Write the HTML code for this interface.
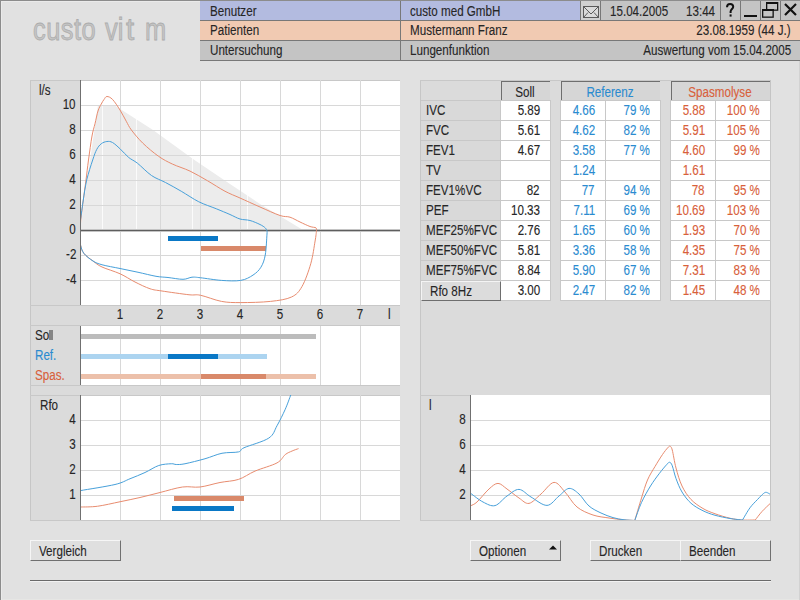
<!DOCTYPE html>
<html><head><meta charset="utf-8">
<style>
*{margin:0;padding:0;box-sizing:border-box}
html,body{width:800px;height:600px;overflow:hidden}
body{background:#e1e1e1;font-family:"Liberation Sans",sans-serif;font-size:14px;color:#262626;position:relative}
.a{position:absolute;white-space:nowrap}
.t,.tr,.tc{position:absolute;white-space:nowrap;line-height:15px;transform:scaleX(0.83);-webkit-text-stroke:0.12px currentColor}
.t{transform-origin:0 0}
.tr{transform-origin:100% 0;text-align:right}
.tc{transform-origin:50% 0;text-align:center}
.btn{position:absolute;height:21px;background:#dfdfdf;border-top:1px solid #f6f6f6;border-left:1px solid #f6f6f6;border-right:1px solid #707070;border-bottom:1px solid #707070}
</style></head><body>

<div style="position:absolute;white-space:nowrap;font-size:31px;line-height:36px;color:#c5c5c5;-webkit-text-stroke:0.8px #acacac;transform:scaleX(0.82);transform-origin:0 0;top:12px;left:33px;letter-spacing:0.6px">custo</div>
<div style="position:absolute;white-space:nowrap;font-size:31px;line-height:36px;color:#c5c5c5;-webkit-text-stroke:0.8px #acacac;transform:scaleX(0.82);transform-origin:0 0;top:12px;left:105px">vi</div>
<div style="position:absolute;white-space:nowrap;font-size:31px;line-height:36px;color:#c5c5c5;-webkit-text-stroke:0.8px #acacac;transform:scaleX(0.82);transform-origin:0 0;top:12px;left:126px;transform:scaleX(0.95)">t</div>
<div style="position:absolute;white-space:nowrap;font-size:31px;line-height:36px;color:#c5c5c5;-webkit-text-stroke:0.8px #acacac;transform:scaleX(0.82);transform-origin:0 0;top:12px;left:145px">m</div>
<div class="a" style="left:200px;top:0;width:600px;height:61px;background:#787878"></div>
<div class="a" style="left:200px;top:1px;width:380px;height:19px;background:#b3bbe0"></div>
<div class="a" style="left:581px;top:1px;width:219px;height:19px;background:#c4c4c4"></div>
<div class="a" style="left:200px;top:21px;width:600px;height:19px;background:#f1cab2"></div>
<div class="a" style="left:200px;top:41px;width:600px;height:19px;background:#c4c4c4"></div>
<div class="a" style="left:600px;top:0;width:1px;height:20px;background:#787878"></div>
<div class="a" style="left:720px;top:0;width:1px;height:20px;background:#787878"></div>
<div class="a" style="left:740px;top:0;width:1px;height:20px;background:#787878"></div>
<div class="a" style="left:760px;top:0;width:1px;height:20px;background:#787878"></div>
<div class="a" style="left:780px;top:0;width:1px;height:20px;background:#787878"></div>
<div class="a" style="left:400px;top:0;width:1px;height:60px;background:#787878"></div>
<div class="t" style="left:210px;top:4px;">Benutzer</div>
<div class="t" style="left:410px;top:4px;">custo med GmbH</div>
<div class="t" style="left:610px;top:4px;">15.04.2005</div>
<div class="t" style="left:686px;top:4px;">13:44</div>
<div class="t" style="left:210px;top:23px;">Patienten</div>
<div class="t" style="left:410px;top:23px;">Mustermann Franz</div>
<div class="tr" style="right:9px;top:23px;">23.08.1959 (44 J.)</div>
<div class="t" style="left:210px;top:43px;">Untersuchung</div>
<div class="t" style="left:410px;top:43px;">Lungenfunktion</div>
<div class="tr" style="right:9px;top:43px;">Auswertung vom 15.04.2005</div>
<svg class="a" style="left:580px;top:0" width="220" height="20">
  <rect x="1" y="1" width="19" height="19" fill="#d0d0d0"/>
  <g fill="none" stroke="#5a5a5a" stroke-width="1">
    <rect x="3.5" y="6.5" width="15" height="11" fill="#dadada"/>
    <path d="M3.5 6.5 L11 14 L18.5 6.5 M3.5 17.5 L8 12.5 M18.5 17.5 L14 12.5"/>
  </g>
  <path d="M147,7.2 C147,4.8 148.6,3.9 150.1,3.9 C152,3.9 153.2,5.1 153.2,6.7 C153.2,8.8 150.6,9.3 150.6,11.6 V12.9" fill="none" stroke="#111" stroke-width="2"/><rect x="149.6" y="14.4" width="2" height="2.2" fill="#111"/>
  <rect x="164" y="15" width="13" height="2" fill="#111"/>
  <g fill="none" stroke="#111" stroke-width="1.3">
    <rect x="186.65" y="2.65" width="11" height="7.5"/>
    <rect x="182.65" y="9.65" width="10.5" height="7.5" fill="#c4c4c4"/>
  </g>
  <rect x="186" y="2" width="12" height="2" fill="#111"/><rect x="182" y="9" width="12" height="2" fill="#111"/>
  <path d="M205 4 L216 15 M216 4 L205 15" stroke="#111" stroke-width="2.2"/>
</svg>
<svg class="a" style="left:0;top:0" width="800" height="600">
<g shape-rendering="crispEdges">
<rect x="30" y="80" width="370" height="440" fill="#dbdbdb"/>
<rect x="30" y="80" width="1" height="440" fill="#c6c6c6"/>
<rect x="80" y="80" width="320" height="225" fill="#fff"/>
<rect x="80" y="326" width="320" height="59" fill="#fff"/>
<rect x="80" y="395" width="320" height="125" fill="#fff"/>
<rect x="30" y="80" width="370" height="1" fill="#c8c8c8"/>
<rect x="30" y="305" width="370" height="1" fill="#c8c8c8"/>
<rect x="30" y="325" width="370" height="1" fill="#c8c8c8"/>
<rect x="30" y="385" width="370" height="1" fill="#c8c8c8"/>
<rect x="30" y="395" width="370" height="1" fill="#c8c8c8"/>
<rect x="30" y="520" width="370" height="1" fill="#c8c8c8"/>
</g>
<polygon points="80,230 98,105 114,105 153,130 193,159 230,184 260,204 303,230" fill="#ececec"/>
<g shape-rendering="crispEdges">
<rect x="102" y="100" width="1" height="130" fill="#fff" opacity="0.8"/>
<rect x="136" y="100" width="1" height="130" fill="#fff" opacity="0.8"/>
<rect x="192" y="100" width="1" height="130" fill="#fff" opacity="0.8"/>
<rect x="247" y="100" width="1" height="130" fill="#fff" opacity="0.8"/>
<rect x="81" y="105" width="319" height="1" fill="#d8d8d8"/>
<rect x="81" y="130" width="319" height="1" fill="#d8d8d8"/>
<rect x="81" y="155" width="319" height="1" fill="#d8d8d8"/>
<rect x="81" y="180" width="319" height="1" fill="#d8d8d8"/>
<rect x="81" y="205" width="319" height="1" fill="#d8d8d8"/>
<rect x="81" y="255" width="319" height="1" fill="#d8d8d8"/>
<rect x="81" y="280" width="319" height="1" fill="#d8d8d8"/>
<rect x="120" y="80" width="1" height="225" fill="#d8d8d8"/>
<rect x="120" y="326" width="1" height="59" fill="#d8d8d8"/>
<rect x="120" y="395" width="1" height="125" fill="#d8d8d8"/>
<rect x="160" y="80" width="1" height="225" fill="#d8d8d8"/>
<rect x="160" y="326" width="1" height="59" fill="#d8d8d8"/>
<rect x="160" y="395" width="1" height="125" fill="#d8d8d8"/>
<rect x="200" y="80" width="1" height="225" fill="#d8d8d8"/>
<rect x="200" y="326" width="1" height="59" fill="#d8d8d8"/>
<rect x="200" y="395" width="1" height="125" fill="#d8d8d8"/>
<rect x="240" y="80" width="1" height="225" fill="#d8d8d8"/>
<rect x="240" y="326" width="1" height="59" fill="#d8d8d8"/>
<rect x="240" y="395" width="1" height="125" fill="#d8d8d8"/>
<rect x="280" y="80" width="1" height="225" fill="#d8d8d8"/>
<rect x="280" y="326" width="1" height="59" fill="#d8d8d8"/>
<rect x="280" y="395" width="1" height="125" fill="#d8d8d8"/>
<rect x="320" y="80" width="1" height="225" fill="#d8d8d8"/>
<rect x="320" y="326" width="1" height="59" fill="#d8d8d8"/>
<rect x="320" y="395" width="1" height="125" fill="#d8d8d8"/>
<rect x="360" y="80" width="1" height="225" fill="#d8d8d8"/>
<rect x="360" y="326" width="1" height="59" fill="#d8d8d8"/>
<rect x="360" y="395" width="1" height="125" fill="#d8d8d8"/>
<rect x="81" y="420" width="319" height="1" fill="#d8d8d8"/>
<rect x="81" y="445" width="319" height="1" fill="#d8d8d8"/>
<rect x="81" y="470" width="319" height="1" fill="#d8d8d8"/>
<rect x="81" y="495" width="319" height="1" fill="#d8d8d8"/>
<rect x="80" y="230" width="320" height="1" fill="#5e5e5e"/>
<rect x="80" y="229" width="320" height="1" fill="#c4c4c4"/>
<rect x="80" y="231" width="320" height="1" fill="#c4c4c4"/>
<rect x="80" y="80" width="1" height="225" fill="#707070"/>
<rect x="80" y="326" width="1" height="59" fill="#707070"/>
<rect x="80" y="395" width="1" height="125" fill="#707070"/>
<rect x="168" y="236" width="50" height="5" fill="#0a78c6"/>
<rect x="201" y="246" width="65" height="5" fill="#d9896a"/>
<rect x="81" y="334" width="235" height="5" fill="#bcbcbc"/>
<rect x="81" y="354" width="186" height="5" fill="#acd4f0"/>
<rect x="168" y="354" width="50" height="5" fill="#0a78c6"/>
<rect x="81" y="374" width="235" height="5" fill="#ecc0aa"/>
<rect x="201" y="374" width="65" height="5" fill="#d9896a"/>
<rect x="174" y="496" width="70" height="5" fill="#d9896a"/>
<rect x="172" y="506" width="62" height="5" fill="#0a78c6"/>
</g>
<g shape-rendering="crispEdges">
<rect x="420" y="80" width="350" height="440" fill="#dbdbdb"/>
<rect x="420" y="80" width="1" height="440" fill="#c6c6c6"/>
<rect x="770" y="80" width="1" height="441" fill="#c4c4c4"/>
<rect x="420" y="395" width="350" height="1" fill="#c8c8c8"/>
<rect x="420" y="80" width="350" height="1" fill="#c8c8c8"/>
<rect x="420" y="520" width="350" height="1" fill="#c8c8c8"/>
<rect x="470" y="395" width="300" height="125" fill="#fff"/>
<rect x="471" y="420" width="299" height="1" fill="#d8d8d8"/>
<rect x="471" y="445" width="299" height="1" fill="#d8d8d8"/>
<rect x="471" y="470" width="299" height="1" fill="#d8d8d8"/>
<rect x="471" y="495" width="299" height="1" fill="#d8d8d8"/>
<rect x="470" y="395" width="1" height="125" fill="#707070"/>
</g>
<defs><clipPath id="c1"><rect x="81" y="80" width="319" height="225"/></clipPath><clipPath id="c2"><rect x="81" y="395" width="319" height="125"/></clipPath><clipPath id="c3"><rect x="471" y="395" width="299" height="125"/></clipPath></defs>
<path d="M80.00,230.00 C80.10,228.67 80.38,224.33 80.60,222.00 C80.82,219.67 80.85,219.67 81.30,216.00 C81.75,212.33 82.52,206.00 83.30,200.00 C84.08,194.00 85.13,186.67 86.00,180.00 C86.87,173.33 87.50,167.33 88.50,160.00 C89.50,152.67 90.92,142.04 92.00,136.00 C93.08,129.96 94.00,127.92 95.00,123.75 C96.00,119.58 96.96,114.29 98.00,111.00 C99.04,107.71 100.25,105.92 101.25,104.00 C102.25,102.08 103.06,100.75 104.00,99.50 C104.94,98.25 105.48,96.52 106.90,96.50 C108.32,96.48 110.32,97.15 112.50,99.40 C114.68,101.65 117.71,106.36 120.00,110.00 C122.29,113.64 124.35,117.92 126.25,121.25 C128.15,124.58 128.65,126.36 131.40,130.00 C134.15,133.64 138.23,138.72 142.75,143.10 C147.27,147.47 153.54,152.75 158.50,156.25 C163.46,159.75 167.25,161.62 172.50,164.10 C177.75,166.57 184.17,168.32 190.00,171.10 C195.83,173.88 201.67,177.39 207.50,180.75 C213.33,184.11 219.58,188.38 225.00,191.25 C230.42,194.12 234.17,195.38 240.00,198.00 C245.83,200.62 253.33,204.08 260.00,207.00 C266.67,209.92 275.00,213.80 280.00,215.50 C285.00,217.20 286.67,216.12 290.00,217.20 C293.33,218.28 296.67,220.45 300.00,222.00 C303.33,223.55 307.33,225.52 310.00,226.50 C312.67,227.48 314.92,227.15 316.00,227.90 C317.08,228.65 316.42,230.48 316.50,231.00" fill="none" stroke="#e88c6f" stroke-width="1.0" stroke-linejoin="round" clip-path="url(#c1)"/>
<path d="M316.50,231.00 C316.27,232.67 316.06,235.54 315.10,241.00 C314.14,246.46 312.93,256.17 310.75,263.75 C308.57,271.33 305.21,280.96 302.00,286.50 C298.79,292.04 296.75,294.52 291.50,297.00 C286.25,299.48 278.96,300.47 270.50,301.40 C262.04,302.33 248.92,302.60 240.75,302.60 C232.58,302.60 228.21,302.62 221.50,301.40 C214.79,300.17 205.92,296.36 200.50,295.25 C195.08,294.14 195.42,295.46 189.00,294.75 C182.58,294.04 168.50,292.00 162.00,291.00 C155.50,290.00 154.50,290.25 150.00,288.75 C145.50,287.25 140.00,284.50 135.00,282.00 C130.00,279.50 125.50,276.25 120.00,273.75 C114.50,271.25 106.50,269.12 102.00,267.00 C97.50,264.88 96.00,263.25 93.00,261.00 C90.00,258.75 86.08,256.17 84.00,253.50 C81.92,250.83 81.17,247.92 80.50,245.00 C79.83,242.08 80.08,238.50 80.00,236.00 C79.92,233.50 80.00,231.00 80.00,230.00" fill="none" stroke="#e88c6f" stroke-width="1.0" stroke-linejoin="round" clip-path="url(#c1)"/>
<path d="M80.00,228.00 C80.08,226.67 79.95,224.67 80.50,220.00 C81.05,215.33 82.27,206.67 83.30,200.00 C84.33,193.33 85.13,186.67 86.70,180.00 C88.27,173.33 91.03,165.08 92.70,160.00 C94.37,154.92 95.28,152.21 96.70,149.50 C98.12,146.79 99.55,145.08 101.25,143.75 C102.95,142.42 105.03,141.71 106.90,141.50 C108.78,141.29 110.32,141.29 112.50,142.50 C114.68,143.71 117.29,146.25 120.00,148.75 C122.71,151.25 125.83,155.08 128.75,157.50 C131.67,159.92 133.71,160.25 137.50,163.25 C141.29,166.25 146.83,172.29 151.50,175.50 C156.17,178.71 160.54,179.88 165.50,182.50 C170.46,185.12 175.71,188.04 181.25,191.25 C186.79,194.46 192.92,198.83 198.75,201.75 C204.58,204.67 211.04,206.62 216.25,208.75 C221.46,210.88 226.04,212.79 230.00,214.50 C233.96,216.21 236.67,218.00 240.00,219.00 C243.33,220.00 246.67,219.58 250.00,220.50 C253.33,221.42 257.46,223.27 260.00,224.50 C262.54,225.73 264.08,226.82 265.25,227.90 C266.42,228.98 266.71,230.48 267.00,231.00" fill="none" stroke="#47a0da" stroke-width="1.0" stroke-linejoin="round" clip-path="url(#c1)"/>
<path d="M267.00,231.00 C267.00,231.50 267.29,230.00 267.00,234.00 C266.71,238.00 266.27,249.46 265.25,255.00 C264.23,260.54 262.94,263.90 260.90,267.25 C258.86,270.60 256.36,272.91 253.00,275.10 C249.64,277.29 246.00,279.52 240.75,280.40 C235.50,281.28 228.21,280.84 221.50,280.40 C214.79,279.96 205.42,278.28 200.50,277.75 C195.58,277.22 194.92,276.94 192.00,277.20 C189.08,277.46 187.00,279.25 183.00,279.30 C179.00,279.35 172.50,278.00 168.00,277.50 C163.50,277.00 161.00,277.18 156.00,276.30 C151.00,275.43 144.00,273.55 138.00,272.25 C132.00,270.95 126.00,269.75 120.00,268.50 C114.00,267.25 106.50,266.00 102.00,264.75 C97.50,263.50 96.00,262.88 93.00,261.00 C90.00,259.12 86.08,256.17 84.00,253.50 C81.92,250.83 81.17,247.92 80.50,245.00 C79.83,242.08 80.08,238.50 80.00,236.00 C79.92,233.50 80.00,231.00 80.00,230.00" fill="none" stroke="#47a0da" stroke-width="1.0" stroke-linejoin="round" clip-path="url(#c1)"/>
<path d="M81.00,507.00 C83.75,506.88 91.00,507.12 97.50,506.25 C104.00,505.38 112.92,503.21 120.00,501.75 C127.08,500.29 133.33,499.04 140.00,497.50 C146.67,495.96 152.92,494.25 160.00,492.50 C167.08,490.75 175.83,487.92 182.50,487.00 C189.17,486.08 193.75,487.75 200.00,487.00 C206.25,486.25 213.58,483.77 220.00,482.50 C226.42,481.23 232.67,481.30 238.50,479.40 C244.33,477.50 248.58,473.85 255.00,471.10 C261.42,468.35 271.96,465.65 277.00,462.90 C282.04,460.15 282.73,456.58 285.25,454.60 C287.77,452.62 289.89,452.00 292.10,451.00 C294.31,450.00 297.43,449.00 298.50,448.60" fill="none" stroke="#e88c6f" stroke-width="1.0" stroke-linejoin="round" clip-path="url(#c2)"/>
<path d="M81.00,490.50 C86.67,489.50 106.83,486.46 115.00,484.50 C123.17,482.54 125.00,480.75 130.00,478.75 C135.00,476.75 140.21,474.71 145.00,472.50 C149.79,470.29 154.38,466.96 158.75,465.50 C163.12,464.04 168.33,463.92 171.25,463.75 C174.17,463.58 173.96,464.50 176.25,464.50 C178.54,464.50 180.21,464.71 185.00,463.75 C189.79,462.79 198.83,460.50 205.00,458.75 C211.17,457.00 216.42,454.39 222.00,453.25 C227.58,452.11 234.83,452.82 238.50,451.90 C242.17,450.98 238.96,450.05 244.00,447.75 C249.04,445.45 263.25,441.77 268.75,438.10 C274.25,434.43 274.25,430.56 277.00,425.75 C279.75,420.94 282.96,414.38 285.25,409.25 C287.54,404.12 289.83,397.38 290.75,395.00" fill="none" stroke="#47a0da" stroke-width="1.0" stroke-linejoin="round" clip-path="url(#c2)"/>
<path d="M471.00,505.60 C472.00,505.00 474.00,504.77 477.00,502.00 C480.00,499.23 485.50,492.10 489.00,489.00 C492.50,485.90 495.00,483.40 498.00,483.40 C501.00,483.40 503.50,486.57 507.00,489.00 C510.50,491.43 515.33,495.60 519.00,498.00 C522.67,500.40 525.33,504.07 529.00,503.40 C532.67,502.73 536.83,497.50 541.00,494.00 C545.17,490.50 550.00,482.73 554.00,482.40 C558.00,482.07 561.17,487.90 565.00,492.00 C568.83,496.10 572.33,503.17 577.00,507.00 C581.67,510.83 587.67,513.17 593.00,515.00 C598.33,516.83 604.00,517.20 609.00,518.00 C614.00,518.80 618.71,519.38 623.00,519.80 C627.29,520.22 632.79,520.38 634.75,520.50" fill="none" stroke="#e88c6f" stroke-width="1.0" stroke-linejoin="round" clip-path="url(#c3)"/>
<path d="M634.75,520.50 C635.88,516.75 639.38,504.75 641.50,498.00 C643.62,491.25 645.25,485.25 647.50,480.00 C649.75,474.75 652.50,470.75 655.00,466.50 C657.50,462.25 660.38,457.62 662.50,454.50 C664.62,451.38 666.50,449.12 667.75,447.75 C669.00,446.38 669.25,445.88 670.00,446.25 C670.75,446.62 671.25,446.38 672.25,450.00 C673.25,453.62 674.38,462.00 676.00,468.00 C677.62,474.00 679.50,480.75 682.00,486.00 C684.50,491.25 687.50,495.75 691.00,499.50 C694.50,503.25 699.00,506.12 703.00,508.50 C707.00,510.88 710.50,512.12 715.00,513.75 C719.50,515.38 725.54,517.21 730.00,518.25 C734.46,519.29 737.54,519.71 741.75,520.00 C745.96,520.29 753.00,520.00 755.25,520.00" fill="none" stroke="#e88c6f" stroke-width="1.0" stroke-linejoin="round" clip-path="url(#c3)"/>
<path d="M755.25,520.00 C756.38,518.58 759.46,514.30 762.00,511.50 C764.54,508.70 769.08,504.58 770.50,503.20" fill="none" stroke="#e88c6f" stroke-width="1.0" stroke-linejoin="round" clip-path="url(#c3)"/>
<path d="M471.00,493.60 C473.00,495.00 479.00,500.00 483.00,502.00 C487.00,504.00 491.00,506.60 495.00,505.60 C499.00,504.60 503.00,498.70 507.00,496.00 C511.00,493.30 515.00,489.23 519.00,489.40 C523.00,489.57 526.33,494.33 531.00,497.00 C535.67,499.67 542.33,505.57 547.00,505.40 C551.67,505.23 555.33,498.83 559.00,496.00 C562.67,493.17 565.67,488.73 569.00,488.40 C572.33,488.07 575.67,491.07 579.00,494.00 C582.33,496.93 585.33,502.83 589.00,506.00 C592.67,509.17 597.00,511.07 601.00,513.00 C605.00,514.93 609.17,516.47 613.00,517.60 C616.83,518.73 620.38,519.32 624.00,519.80 C627.62,520.28 632.96,520.38 634.75,520.50" fill="none" stroke="#47a0da" stroke-width="1.0" stroke-linejoin="round" clip-path="url(#c3)"/>
<path d="M634.75,520.50 C635.88,517.50 638.88,508.25 641.50,502.50 C644.12,496.75 647.50,490.88 650.50,486.00 C653.50,481.12 656.75,476.88 659.50,473.25 C662.25,469.62 665.30,466.07 667.00,464.25 C668.70,462.43 668.83,462.05 669.70,462.30 C670.58,462.55 671.20,463.05 672.25,465.75 C673.30,468.45 674.38,474.12 676.00,478.50 C677.62,482.88 679.50,487.88 682.00,492.00 C684.50,496.12 687.50,500.12 691.00,503.25 C694.50,506.38 699.00,508.75 703.00,510.75 C707.00,512.75 710.50,513.96 715.00,515.25 C719.50,516.54 725.42,517.71 730.00,518.50 C734.58,519.29 740.42,519.75 742.50,520.00" fill="none" stroke="#47a0da" stroke-width="1.0" stroke-linejoin="round" clip-path="url(#c3)"/>
<path d="M742.50,520.00 C743.75,517.96 747.50,511.17 750.00,507.75 C752.50,504.33 755.25,501.88 757.50,499.50 C759.75,497.12 762.00,494.68 763.50,493.50 C765.00,492.32 765.33,492.23 766.50,492.40 C767.67,492.57 769.83,494.15 770.50,494.50" fill="none" stroke="#47a0da" stroke-width="1.0" stroke-linejoin="round" clip-path="url(#c3)"/>
</svg>
<div class="t" style="left:39px;top:83px;">l/s</div>
<div class="tr" style="right:724px;top:97px;">10</div>
<div class="tr" style="right:724px;top:122px;">8</div>
<div class="tr" style="right:724px;top:147px;">6</div>
<div class="tr" style="right:724px;top:172px;">4</div>
<div class="tr" style="right:724px;top:197px;">2</div>
<div class="tr" style="right:724px;top:222px;">0</div>
<div class="tr" style="right:724px;top:247px;">-2</div>
<div class="tr" style="right:724px;top:272px;">-4</div>
<div class="tc" style="left:60px;width:120px;top:307px;">1</div>
<div class="tc" style="left:100px;width:120px;top:307px;">2</div>
<div class="tc" style="left:140px;width:120px;top:307px;">3</div>
<div class="tc" style="left:180px;width:120px;top:307px;">4</div>
<div class="tc" style="left:220px;width:120px;top:307px;">5</div>
<div class="tc" style="left:260px;width:120px;top:307px;">6</div>
<div class="tc" style="left:300px;width:120px;top:307px;">7</div>
<div class="t" style="left:388px;top:307px;">l</div>
<div class="t" style="left:35px;top:328px;">So</div>
<div class="a" style="left:49px;top:330px;width:4px;height:10px;background:#858585"></div>
<div class="t" style="left:35px;top:348px;color:#2a8bd0">Ref.</div>
<div class="t" style="left:35px;top:368px;color:#d8603a">Spas.</div>
<div class="t" style="left:40px;top:398px;">Rfo</div>
<div class="tr" style="right:724px;top:412px;">4</div>
<div class="tr" style="right:724px;top:437px;">3</div>
<div class="tr" style="right:724px;top:462px;">2</div>
<div class="tr" style="right:724px;top:487px;">1</div>
<div class="t" style="left:429px;top:398px;">l</div>
<div class="tr" style="right:334px;top:412px;">8</div>
<div class="tr" style="right:334px;top:437px;">6</div>
<div class="tr" style="right:334px;top:462px;">4</div>
<div class="tr" style="right:334px;top:487px;">2</div>
<div class="a" style="left:421px;top:100px;width:79px;height:201px;background:#d9d9d9"></div>
<div class="a" style="left:421px;top:100px;width:80px;height:1px;background:#c8c8c8"></div>
<div class="a" style="left:421px;top:120px;width:80px;height:1px;background:#c8c8c8"></div>
<div class="a" style="left:421px;top:140px;width:80px;height:1px;background:#c8c8c8"></div>
<div class="a" style="left:421px;top:160px;width:80px;height:1px;background:#c8c8c8"></div>
<div class="a" style="left:421px;top:180px;width:80px;height:1px;background:#c8c8c8"></div>
<div class="a" style="left:421px;top:200px;width:80px;height:1px;background:#c8c8c8"></div>
<div class="a" style="left:421px;top:220px;width:80px;height:1px;background:#c8c8c8"></div>
<div class="a" style="left:421px;top:240px;width:80px;height:1px;background:#c8c8c8"></div>
<div class="a" style="left:421px;top:260px;width:80px;height:1px;background:#c8c8c8"></div>
<div class="a" style="left:421px;top:280px;width:80px;height:1px;background:#c8c8c8"></div>
<div class="a" style="left:500px;top:100px;width:51px;height:201px;background:#fff;border:1px solid #c8c8c8"></div>
<div class="a" style="left:500px;top:120px;width:50px;height:1px;background:#c8c8c8"></div>
<div class="a" style="left:500px;top:140px;width:50px;height:1px;background:#c8c8c8"></div>
<div class="a" style="left:500px;top:160px;width:50px;height:1px;background:#c8c8c8"></div>
<div class="a" style="left:500px;top:180px;width:50px;height:1px;background:#c8c8c8"></div>
<div class="a" style="left:500px;top:200px;width:50px;height:1px;background:#c8c8c8"></div>
<div class="a" style="left:500px;top:220px;width:50px;height:1px;background:#c8c8c8"></div>
<div class="a" style="left:500px;top:240px;width:50px;height:1px;background:#c8c8c8"></div>
<div class="a" style="left:500px;top:260px;width:50px;height:1px;background:#c8c8c8"></div>
<div class="a" style="left:500px;top:280px;width:50px;height:1px;background:#c8c8c8"></div>
<div class="a" style="left:560px;top:100px;width:101px;height:201px;background:#fff;border:1px solid #c8c8c8"></div>
<div class="a" style="left:560px;top:120px;width:100px;height:1px;background:#c8c8c8"></div>
<div class="a" style="left:560px;top:140px;width:100px;height:1px;background:#c8c8c8"></div>
<div class="a" style="left:560px;top:160px;width:100px;height:1px;background:#c8c8c8"></div>
<div class="a" style="left:560px;top:180px;width:100px;height:1px;background:#c8c8c8"></div>
<div class="a" style="left:560px;top:200px;width:100px;height:1px;background:#c8c8c8"></div>
<div class="a" style="left:560px;top:220px;width:100px;height:1px;background:#c8c8c8"></div>
<div class="a" style="left:560px;top:240px;width:100px;height:1px;background:#c8c8c8"></div>
<div class="a" style="left:560px;top:260px;width:100px;height:1px;background:#c8c8c8"></div>
<div class="a" style="left:560px;top:280px;width:100px;height:1px;background:#c8c8c8"></div>
<div class="a" style="left:670px;top:100px;width:101px;height:201px;background:#fff;border:1px solid #c8c8c8"></div>
<div class="a" style="left:670px;top:120px;width:100px;height:1px;background:#c8c8c8"></div>
<div class="a" style="left:670px;top:140px;width:100px;height:1px;background:#c8c8c8"></div>
<div class="a" style="left:670px;top:160px;width:100px;height:1px;background:#c8c8c8"></div>
<div class="a" style="left:670px;top:180px;width:100px;height:1px;background:#c8c8c8"></div>
<div class="a" style="left:670px;top:200px;width:100px;height:1px;background:#c8c8c8"></div>
<div class="a" style="left:670px;top:220px;width:100px;height:1px;background:#c8c8c8"></div>
<div class="a" style="left:670px;top:240px;width:100px;height:1px;background:#c8c8c8"></div>
<div class="a" style="left:670px;top:260px;width:100px;height:1px;background:#c8c8c8"></div>
<div class="a" style="left:670px;top:280px;width:100px;height:1px;background:#c8c8c8"></div>
<div class="a" style="left:605px;top:100px;width:1px;height:200px;background:#c8c8c8"></div>
<div class="a" style="left:715px;top:100px;width:1px;height:200px;background:#c8c8c8"></div>
<div class="a" style="left:421px;top:281px;width:80px;height:20px;background:#dcdcdc;border-top:1px solid #f4f4f4;border-left:1px solid #f4f4f4;border-right:1px solid #6e6e6e;border-bottom:1px solid #6e6e6e"></div>
<div class="t" style="left:426px;top:103px;">IVC</div>
<div class="tr" style="right:260px;top:103px;">5.89</div>
<div class="tr" style="right:205px;top:103px;color:#2a8bd0">4.66</div>
<div class="tr" style="right:150px;top:103px;color:#2a8bd0">79 %</div>
<div class="tr" style="right:95px;top:103px;color:#d8603a">5.88</div>
<div class="tr" style="right:40px;top:103px;color:#d8603a">100 %</div>
<div class="t" style="left:426px;top:123px;">FVC</div>
<div class="tr" style="right:260px;top:123px;">5.61</div>
<div class="tr" style="right:205px;top:123px;color:#2a8bd0">4.62</div>
<div class="tr" style="right:150px;top:123px;color:#2a8bd0">82 %</div>
<div class="tr" style="right:95px;top:123px;color:#d8603a">5.91</div>
<div class="tr" style="right:40px;top:123px;color:#d8603a">105 %</div>
<div class="t" style="left:426px;top:143px;">FEV1</div>
<div class="tr" style="right:260px;top:143px;">4.67</div>
<div class="tr" style="right:205px;top:143px;color:#2a8bd0">3.58</div>
<div class="tr" style="right:150px;top:143px;color:#2a8bd0">77 %</div>
<div class="tr" style="right:95px;top:143px;color:#d8603a">4.60</div>
<div class="tr" style="right:40px;top:143px;color:#d8603a">99 %</div>
<div class="t" style="left:426px;top:163px;">TV</div>
<div class="tr" style="right:260px;top:163px;"></div>
<div class="tr" style="right:205px;top:163px;color:#2a8bd0">1.24</div>
<div class="tr" style="right:150px;top:163px;color:#2a8bd0"></div>
<div class="tr" style="right:95px;top:163px;color:#d8603a">1.61</div>
<div class="tr" style="right:40px;top:163px;color:#d8603a"></div>
<div class="t" style="left:426px;top:183px;">FEV1%VC</div>
<div class="tr" style="right:260px;top:183px;">82</div>
<div class="tr" style="right:205px;top:183px;color:#2a8bd0">77</div>
<div class="tr" style="right:150px;top:183px;color:#2a8bd0">94 %</div>
<div class="tr" style="right:95px;top:183px;color:#d8603a">78</div>
<div class="tr" style="right:40px;top:183px;color:#d8603a">95 %</div>
<div class="t" style="left:426px;top:203px;">PEF</div>
<div class="tr" style="right:260px;top:203px;">10.33</div>
<div class="tr" style="right:205px;top:203px;color:#2a8bd0">7.11</div>
<div class="tr" style="right:150px;top:203px;color:#2a8bd0">69 %</div>
<div class="tr" style="right:95px;top:203px;color:#d8603a">10.69</div>
<div class="tr" style="right:40px;top:203px;color:#d8603a">103 %</div>
<div class="t" style="left:426px;top:223px;">MEF25%FVC</div>
<div class="tr" style="right:260px;top:223px;">2.76</div>
<div class="tr" style="right:205px;top:223px;color:#2a8bd0">1.65</div>
<div class="tr" style="right:150px;top:223px;color:#2a8bd0">60 %</div>
<div class="tr" style="right:95px;top:223px;color:#d8603a">1.93</div>
<div class="tr" style="right:40px;top:223px;color:#d8603a">70 %</div>
<div class="t" style="left:426px;top:243px;">MEF50%FVC</div>
<div class="tr" style="right:260px;top:243px;">5.81</div>
<div class="tr" style="right:205px;top:243px;color:#2a8bd0">3.36</div>
<div class="tr" style="right:150px;top:243px;color:#2a8bd0">58 %</div>
<div class="tr" style="right:95px;top:243px;color:#d8603a">4.35</div>
<div class="tr" style="right:40px;top:243px;color:#d8603a">75 %</div>
<div class="t" style="left:426px;top:263px;">MEF75%FVC</div>
<div class="tr" style="right:260px;top:263px;">8.84</div>
<div class="tr" style="right:205px;top:263px;color:#2a8bd0">5.90</div>
<div class="tr" style="right:150px;top:263px;color:#2a8bd0">67 %</div>
<div class="tr" style="right:95px;top:263px;color:#d8603a">7.31</div>
<div class="tr" style="right:40px;top:263px;color:#d8603a">83 %</div>
<div class="t" style="left:430px;top:284px;">Rfo 8Hz</div>
<div class="tr" style="right:260px;top:283px;">3.00</div>
<div class="tr" style="right:205px;top:283px;color:#2a8bd0">2.47</div>
<div class="tr" style="right:150px;top:283px;color:#2a8bd0">82 %</div>
<div class="tr" style="right:95px;top:283px;color:#d8603a">1.45</div>
<div class="tr" style="right:40px;top:283px;color:#d8603a">48 %</div>
<div class="a" style="left:501px;top:81px;width:49px;height:19px;background:#d6d6d6;border-top:1px solid #6e6e6e;border-left:1px solid #6e6e6e"></div>
<div class="a" style="left:561px;top:81px;width:99px;height:19px;background:#d6d6d6;border-top:1px solid #6e6e6e;border-left:1px solid #6e6e6e"></div>
<div class="a" style="left:671px;top:81px;width:99px;height:19px;background:#d6d6d6;border-top:1px solid #6e6e6e;border-left:1px solid #6e6e6e"></div>
<div class="tc" style="left:465px;width:120px;top:85px;">Soll</div>
<div class="tc" style="left:550px;width:120px;top:85px;color:#2a8bd0">Referenz</div>
<div class="tc" style="left:660px;width:120px;top:85px;color:#d8603a">Spasmolyse</div>
<div class="btn" style="left:30px;top:540px;width:91px"></div>
<div class="btn" style="left:470px;top:540px;width:91px"></div>
<div class="btn" style="left:590px;top:540px;width:91px"></div>
<div class="btn" style="left:680px;top:540px;width:91px"></div>
<div class="t" style="left:39px;top:544px;">Vergleich</div>
<div class="t" style="left:479px;top:544px;">Optionen</div>
<div class="t" style="left:599px;top:544px;">Drucken</div>
<div class="t" style="left:689px;top:544px;">Beenden</div>
<svg class="a" style="left:549px;top:545px" width="9" height="5"><path d="M0 4.5 L4 0.5 L8 4.5 Z" fill="#111"/></svg>
<div class="a" style="left:30px;top:580px;width:741px;height:1px;background:#6a6a6a"></div>
<div class="a" style="left:30px;top:581px;width:741px;height:1px;background:#f2f2f2"></div>
<div class="a" style="left:0;top:1px;width:200px;height:1px;background:#eaeaea"></div>
<div class="a" style="left:1px;top:1px;width:1px;height:599px;background:#eaeaea"></div>
<div class="a" style="left:799px;top:61px;width:1px;height:539px;background:#d2d2d2"></div>
<div class="a" style="left:2px;top:599px;width:797px;height:1px;background:#e6e6e4"></div>
<div class="a" style="left:0;top:0;width:800px;height:1px;background:#8c8c8c"></div>
<div class="a" style="left:0;top:0;width:1px;height:600px;background:#8c8c8c"></div>
</body></html>
